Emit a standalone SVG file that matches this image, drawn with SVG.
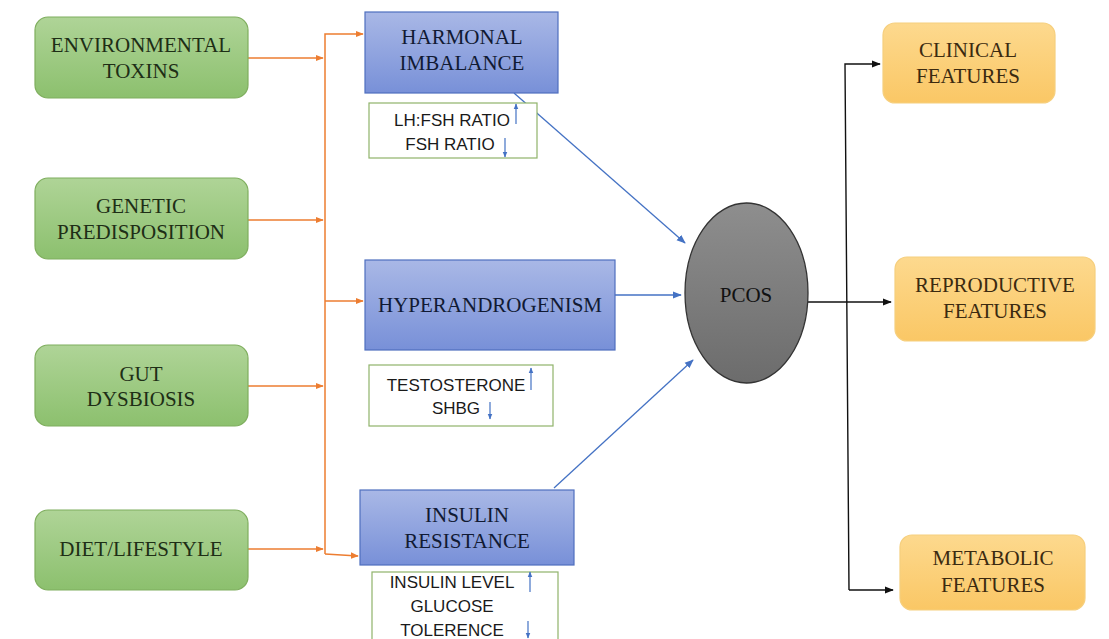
<svg xmlns="http://www.w3.org/2000/svg" width="1109" height="639" viewBox="0 0 1109 639">
<defs>
<linearGradient id="gGreen" x1="0" y1="0" x2="0" y2="1"><stop offset="0" stop-color="#afd497"/><stop offset="1" stop-color="#8cc06e"/></linearGradient>
<linearGradient id="gBlue" x1="0" y1="0" x2="0" y2="1"><stop offset="0" stop-color="#a9b8e6"/><stop offset="1" stop-color="#7890d8"/></linearGradient>
<linearGradient id="gOrange" x1="0" y1="0" x2="0" y2="1"><stop offset="0" stop-color="#fdd98e"/><stop offset="1" stop-color="#fac765"/></linearGradient>
<linearGradient id="gGray" x1="0" y1="0" x2="0" y2="1"><stop offset="0" stop-color="#8e8e8e"/><stop offset="1" stop-color="#6c6c6c"/></linearGradient>
<marker id="mOr" viewBox="0 0 10 10" refX="9" refY="5" markerWidth="8" markerHeight="8" markerUnits="userSpaceOnUse" orient="auto"><path d="M0,1 L10,5 L0,9 z" fill="#ed7d31"/></marker>
<marker id="mBl" viewBox="0 0 10 10" refX="9" refY="5" markerWidth="9" markerHeight="9" markerUnits="userSpaceOnUse" orient="auto"><path d="M0,1 L10,5 L0,9 z" fill="#4472c4"/></marker>
<marker id="mSm" viewBox="0 0 10 10" refX="9" refY="5" markerWidth="6" markerHeight="6" markerUnits="userSpaceOnUse" orient="auto"><path d="M0,1 L10,5 L0,9 z" fill="#4472c4"/></marker>
<marker id="mBk" viewBox="0 0 10 10" refX="9" refY="5" markerWidth="9" markerHeight="9" markerUnits="userSpaceOnUse" orient="auto"><path d="M0,1 L10,5 L0,9 z" fill="#111"/></marker>
<style>
.green{fill:url(#gGreen);stroke:#7fae5e;stroke-width:1.2}
.blue{fill:url(#gBlue);stroke:#4f6fbf;stroke-width:1.2}
.orange{fill:url(#gOrange);stroke:#f6cf7e;stroke-width:1.2}
.note{fill:#fff;stroke:#8fb36a;stroke-width:1.2}
.serif{font-family:"Liberation Serif","Times New Roman",serif;font-size:21px;text-anchor:middle}
.gt{fill:#1e2e16}
.bt{fill:#111a33}
.ot{fill:#3b2a10}
.sans{font-family:"Liberation Sans",Arial,sans-serif;font-size:17px;text-anchor:middle;fill:#1a1a1a}
.or{stroke:#ed7d31;stroke-width:1.5;fill:none}
.bl{stroke:#4472c4;stroke-width:1.3;fill:none}
.sm{stroke:#4472c4;stroke-width:1.2;fill:none}
.bk{stroke:#111;stroke-width:1.4;fill:none}
</style>
</defs>
<rect width="1109" height="639" fill="#fff"/>

<g id="connectors">
<line class="or" x1="248" y1="58" x2="323" y2="58" marker-end="url(#mOr)"/>
<line class="or" x1="248" y1="220" x2="323" y2="220" marker-end="url(#mOr)"/>
<line class="or" x1="248" y1="386" x2="323" y2="386" marker-end="url(#mOr)"/>
<line class="or" x1="248" y1="549" x2="323" y2="549" marker-end="url(#mOr)"/>
<polyline class="or" points="325,554 325,34 363,34" marker-end="url(#mOr)"/>
<line class="or" x1="325" y1="301" x2="363" y2="301" marker-end="url(#mOr)"/>
<line class="or" x1="325" y1="554" x2="358" y2="556" marker-end="url(#mOr)"/>
<line class="bl" x1="514" y1="93" x2="685" y2="243" marker-end="url(#mBl)"/>
<line class="bl" x1="615" y1="295" x2="681" y2="295" marker-end="url(#mBl)"/>
<line class="bl" x1="554" y1="488" x2="693" y2="360" marker-end="url(#mBl)"/>
<line class="bk" x1="808" y1="302" x2="891" y2="302" marker-end="url(#mBk)"/>
<polyline class="bk" points="849,590 845,64 880,64" marker-end="url(#mBk)"/>
<line class="bk" x1="849" y1="590" x2="893" y2="590" marker-end="url(#mBk)"/>
</g>

<g id="env"><rect class="green" x="35" y="17" width="213" height="81" rx="13"/>
<text class="serif gt" x="141" y="52">ENVIRONMENTAL</text><text class="serif gt" x="141" y="78">TOXINS</text></g>
<g id="genetic"><rect class="green" x="35" y="178" width="213" height="81" rx="13"/>
<text class="serif gt" x="141" y="213">GENETIC</text><text class="serif gt" x="141" y="239">PREDISPOSITION</text></g>
<g id="gut"><rect class="green" x="35" y="345" width="213" height="81" rx="13"/>
<text class="serif gt" x="141" y="381">GUT</text><text class="serif gt" x="141" y="406">DYSBIOSIS</text></g>
<g id="diet"><rect class="green" x="35" y="510" width="213" height="80" rx="13"/>
<text class="serif gt" x="141" y="556">DIET/LIFESTYLE</text></g>

<g id="harmonal"><rect class="blue" x="365" y="12" width="193" height="81"/>
<text class="serif bt" x="462" y="44">HARMONAL</text><text class="serif bt" x="462" y="70">IMBALANCE</text></g>
<g id="hyper"><rect class="blue" x="365" y="260" width="250" height="90"/>
<text class="serif bt" x="490" y="312">HYPERANDROGENISM</text></g>
<g id="insulin"><rect class="blue" x="360" y="490" width="214" height="75"/>
<text class="serif bt" x="467" y="522">INSULIN</text><text class="serif bt" x="467" y="548">RESISTANCE</text></g>

<g id="note-lh"><rect class="note" x="369" y="103" width="168" height="55"/>
<text class="sans" x="452" y="126">LH:FSH RATIO</text><text class="sans" x="450" y="150">FSH RATIO</text>
<line class="sm" x1="516" y1="124" x2="516" y2="104" marker-end="url(#mSm)"/>
<line class="sm" x1="505" y1="138" x2="505" y2="157" marker-end="url(#mSm)"/></g>
<g id="note-testo"><rect class="note" x="369" y="365" width="184" height="61"/>
<text class="sans" x="456" y="391">TESTOSTERONE</text><text class="sans" x="456" y="414">SHBG</text>
<line class="sm" x1="531" y1="390" x2="531" y2="368" marker-end="url(#mSm)"/>
<line class="sm" x1="490" y1="402" x2="490" y2="419" marker-end="url(#mSm)"/></g>
<g id="note-ins"><rect class="note" x="372" y="572" width="186" height="80"/>
<text class="sans" x="452" y="588">INSULIN LEVEL</text><text class="sans" x="452" y="612">GLUCOSE</text><text class="sans" x="452" y="636">TOLERENCE</text>
<line class="sm" x1="530" y1="592" x2="530" y2="572" marker-end="url(#mSm)"/>
<line class="sm" x1="528" y1="621" x2="528" y2="638" marker-end="url(#mSm)"/></g>

<g id="pcos"><ellipse cx="746.5" cy="293" rx="61.5" ry="90" fill="url(#gGray)" stroke="#333" stroke-width="1.3"/>
<text class="serif" x="746" y="302" fill="#111" font-size="22">PCOS</text></g>

<g id="clinical"><rect class="orange" x="883" y="23" width="172" height="80" rx="12"/>
<text class="serif ot" x="968" y="57">CLINICAL</text><text class="serif ot" x="968" y="83">FEATURES</text></g>
<g id="repro"><rect class="orange" x="895" y="257" width="200" height="84" rx="12"/>
<text class="serif ot" x="995" y="292">REPRODUCTIVE</text><text class="serif ot" x="995" y="318">FEATURES</text></g>
<g id="metabolic"><rect class="orange" x="900" y="535" width="185" height="75" rx="12"/>
<text class="serif ot" x="993" y="565">METABOLIC</text><text class="serif ot" x="993" y="592">FEATURES</text></g>
</svg>
